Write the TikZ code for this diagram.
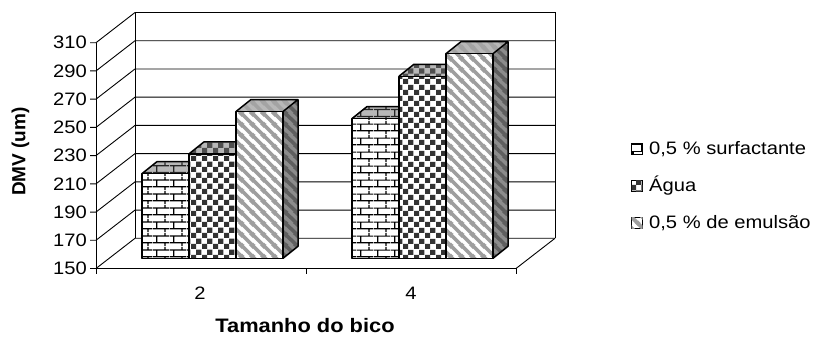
\documentclass[tikz,border=0pt]{standalone}
\usepackage{fontspec}
\setmainfont{Liberation Sans}
\newfontfamily\widefont{Liberation Sans}[FakeStretch=1.12]
\usetikzlibrary{patterns,positioning}

\definecolor{topgray}{gray}{0.72}
\definecolor{sidegray}{gray}{0.55}
\definecolor{stripegray}{gray}{0.62}
\definecolor{checkdark}{gray}{0.2}

% hatches of the three series
\pgfdeclarepatternformonly{brickwall}{\pgfpointorigin}{\pgfqpoint{17pt}{14pt}}{\pgfqpoint{17pt}{14pt}}{%
  \pgfsetlinewidth{1.3pt}
  \pgfpathmoveto{\pgfqpoint{0pt}{3.5pt}}\pgfpathlineto{\pgfqpoint{17pt}{3.5pt}}
  \pgfpathmoveto{\pgfqpoint{0pt}{10.5pt}}\pgfpathlineto{\pgfqpoint{17pt}{10.5pt}}
  \pgfpathmoveto{\pgfqpoint{4pt}{3.5pt}}\pgfpathlineto{\pgfqpoint{4pt}{10.5pt}}
  \pgfpathmoveto{\pgfqpoint{12.5pt}{10.5pt}}\pgfpathlineto{\pgfqpoint{12.5pt}{14pt}}
  \pgfpathmoveto{\pgfqpoint{12.5pt}{0pt}}\pgfpathlineto{\pgfqpoint{12.5pt}{3.5pt}}
  \pgfusepath{stroke}}
\pgfdeclarepatternformonly{chequer}{\pgfpointorigin}{\pgfqpoint{10.6pt}{10.6pt}}{\pgfqpoint{10.6pt}{10.6pt}}{%
  \pgfpathrectangle{\pgfpointorigin}{\pgfqpoint{5.3pt}{5.3pt}}
  \pgfpathrectangle{\pgfqpoint{5.3pt}{5.3pt}}{\pgfqpoint{5.3pt}{5.3pt}}
  \pgfusepath{fill}}
\pgfdeclarepatternformonly{slants}{\pgfpointorigin}{\pgfqpoint{11pt}{11pt}}{\pgfqpoint{11pt}{11pt}}{%
  \pgfsetlinewidth{3.8pt}
  \pgfpathmoveto{\pgfqpoint{-2pt}{13pt}}\pgfpathlineto{\pgfqpoint{13pt}{-2pt}}
  \pgfpathmoveto{\pgfqpoint{-2pt}{2pt}}\pgfpathlineto{\pgfqpoint{2pt}{-2pt}}
  \pgfpathmoveto{\pgfqpoint{9pt}{13pt}}\pgfpathlineto{\pgfqpoint{13pt}{9pt}}
  \pgfusepath{stroke}}

% one 3d bar: left edge, value, hatch, hatch colour
\newcommand{\drawbar}[4]{%
  \pgfmathsetmacro{\ytop}{258.3-(#2-150)*1.4112}
  \path[fill=sidegray, postaction={pattern=#3, pattern color=#4!60!black}]
    (#1+47,258.3) -- (#1+62,246.3) -- (#1+62,\ytop-12) -- (#1+47,\ytop) -- cycle;
  \path[fill=topgray, postaction={pattern=#3, pattern color=#4!80!topgray}]
    (#1,\ytop) -- (#1+15,\ytop-12) -- (#1+62,\ytop-12) -- (#1+47,\ytop) -- cycle;
  \path[fill=white, postaction={pattern=#3, pattern color=#4}]
    (#1,\ytop) rectangle (#1+47,258.3);
  \draw[baredge] (#1,\ytop) rectangle (#1+47,258.3);
  \draw[baredge] (#1,\ytop) -- (#1+15,\ytop-12) -- (#1+62,\ytop-12)
    -- (#1+62,246.3) -- (#1+47,258.3) (#1+47,\ytop) -- (#1+62,\ytop-12);
}

\begin{document}
\begin{tikzpicture}[x=1pt,y=-1pt,
    gridline/.style={line width=0.9pt},
    baredge/.style={line width=1.5pt, line join=round},
    ticklabel/.style={font=\widefont\fontsize{18}{20}\selectfont, inner sep=0pt},
    axistitle/.style={font=\bfseries\fontsize{19}{21}\selectfont, inner sep=0pt},
    legendbox/.style={draw, line width=0.9pt, minimum size=11pt, inner sep=0pt}]
\useasboundingbox (0,0) rectangle (821,344);

% walls and floor
\foreach \v in {150,170,...,310} {
  \pgfmathsetmacro{\yf}{268.5-(\v-150)*1.4112}
  \draw[gridline] (90,\yf) -- (96,\yf) -- (135,\yf-30.2) -- (555,\yf-30.2);
  \node[ticklabel, anchor=east] (lab\v) at (87,\yf) {\v};
}
\draw[gridline] (96,42.7) -- (96,274);
\draw[gridline] (135,12.5) -- (135,238.3);
\draw[gridline] (555,12.5) -- (555,238.3);
\draw[gridline] (96,268.5) -- (516,268.5) -- (555,238.3);
\draw[gridline] (306,268.5) -- (306,274);
\draw[gridline] (516,268.5) -- (516,274);

% bars
\foreach \xl/\val/\hatch/\hcol in {142/210/brickwall/black, 189/224/chequer/checkdark,
    236/254/slants/stripegray, 352/249/brickwall/black, 399/279/chequer/checkdark,
    446/295/slants/stripegray} {
  \drawbar{\xl}{\val}{\hatch}{\hcol}
}

% axis labels
\node[ticklabel] (cat2) at (200,293) {2};
\node[ticklabel] (cat4) at (411,293) {4};
\node[axistitle, font=\widefont\bfseries\fontsize{19.5}{21}\selectfont] (xtitle) at (305,326) {Tamanho do bico};
\node[axistitle, rotate=90] (ytitle) at (20.5,151.5) {DMV (um)};

% legend
\node[legendbox, fill=white, postaction={pattern=brickwall, pattern color=black}] (key1) at (637,149.3) {};
\node[legendbox, fill=white, postaction={pattern=chequer, pattern color=checkdark}] (key2) at (637,186) {};
\node[legendbox, fill=white, postaction={pattern=slants, pattern color=stripegray}] (key3) at (637,223.3) {};
\node[ticklabel, right=6pt of key1] (txt1) {0,5 \% surfactante};
\node[ticklabel, right=6pt of key2] (txt2) {Água};
\node[ticklabel, right=6pt of key3] (txt3) {0,5 \% de emulsão};
\end{tikzpicture}
\end{document}
